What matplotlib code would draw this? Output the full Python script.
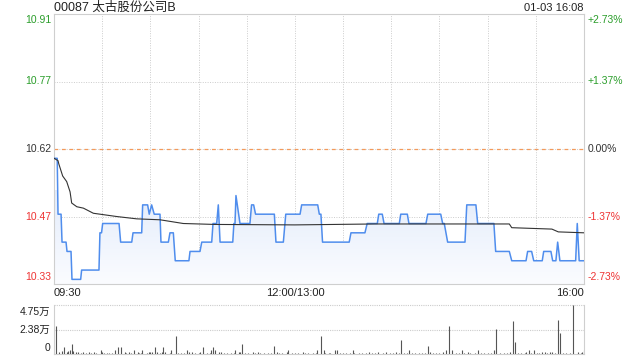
import matplotlib
matplotlib.use("Agg")
import matplotlib.pyplot as plt
import numpy as np
from matplotlib.colors import LinearSegmentedColormap

plt.rcParams['font.family'] = ['Liberation Sans', 'Noto Sans CJK SC', 'DejaVu Sans']

# ---------------- data ----------------
title = "00087 太古股份公司B"
stamp = "01-03 16:08"
prev_close = 10.62
pct_range = 0.0273
left_labels = ["10.91", "10.77", "10.62", "10.47", "10.33"]
right_labels = ["+2.73%", "+1.37%", "0.00%", "-1.37%", "-2.73%"]
time_labels = ["09:30", "12:00/13:00", "16:00"]
time_ticks = [0, 150, 330]
vol_labels = ["4.75万", "2.38万", "0"]
vol_max = 47500

price_t = [0, 2, 2.5, 4.4, 5, 7.5, 8.1, 10.6, 11.2, 16.6, 17.2, 28, 28.6, 29.6, 30.3, 40.5, 41.5,
           48.4, 49.2, 54.6, 55.2, 58.3, 59.3, 60.8, 62.4, 66, 66.6, 71.2, 72.2, 74.3, 75.5, 84,
           84.7, 90.9, 92, 98.2, 99, 101.3, 102.3, 103.4, 111.3, 112, 112.7, 113.3, 115.8, 122,
           123, 124.3, 125.5, 137.2, 138.2, 142.8, 144.3, 153.2, 154.2, 164.2, 165.2, 166.2,
           167.2, 183.8, 184.9, 193.6, 195, 201.3, 202.2, 204.4, 205.5, 215, 215.9, 220, 221,
           231.6, 232.7, 240.8, 242, 243, 245.1, 255.9, 257, 262.7, 263.8, 273.9, 275, 283.5,
           285, 293.9, 294.9, 297.4, 298.7, 304, 304.9, 309.4, 310.5, 312.5, 313.6, 315, 324.8,
           325.8, 327, 330]
price_v = [10.60, 10.60, 10.48, 10.48, 10.42, 10.42, 10.40, 10.40, 10.34, 10.34, 10.36, 10.36,
           10.44, 10.44, 10.46, 10.46, 10.42, 10.42, 10.44, 10.44, 10.50, 10.50, 10.48, 10.50,
           10.48, 10.48, 10.42, 10.42, 10.44, 10.44, 10.38, 10.38, 10.40, 10.40, 10.42, 10.42,
           10.46, 10.46, 10.50, 10.42, 10.42, 10.46, 10.46, 10.52, 10.46, 10.46, 10.50, 10.50,
           10.48, 10.48, 10.42, 10.42, 10.48, 10.48, 10.50, 10.50, 10.48, 10.48, 10.42, 10.42,
           10.44, 10.44, 10.46, 10.46, 10.48, 10.48, 10.46, 10.46, 10.48, 10.48, 10.46, 10.46,
           10.48, 10.48, 10.46, 10.46, 10.42, 10.42, 10.50, 10.50, 10.46, 10.46, 10.40, 10.40,
           10.38, 10.38, 10.40, 10.40, 10.38, 10.38, 10.40, 10.40, 10.38, 10.38, 10.42, 10.38,
           10.38, 10.46, 10.38, 10.38]

avg_t = [0, 2.5, 3, 5.4, 7.9, 10, 11, 14.2, 18.3, 24.5, 39, 51.5, 66, 80.5, 100, 150, 200, 250,
         283.5, 285, 310, 314, 330]
avg_v = [10.60, 10.595, 10.588, 10.562, 10.55, 10.528, 10.504, 10.496, 10.493, 10.482, 10.475,
         10.47, 10.468, 10.46, 10.458, 10.457, 10.459, 10.459, 10.459, 10.451, 10.448, 10.442,
         10.44]

vol_t = [1, 3, 5, 6, 8, 9, 10, 11, 12, 14, 15, 17, 18, 20, 22, 23, 25, 26, 29, 30, 31, 33, 34,
         36, 38, 40, 42, 44, 45, 47, 48, 50, 52, 53, 54, 55, 58, 59, 60, 61, 63, 64, 66, 67, 68,
         69, 72, 73, 76, 77, 79, 81, 83, 84, 86, 88, 90, 91, 93, 95, 97, 98, 99, 100, 103, 104,
         106, 108, 110, 112, 113, 115, 116, 117, 119, 121, 124, 125, 127, 128, 131, 133, 135,
         137, 139, 140, 142, 145, 146, 148, 150, 152, 155, 156, 158, 161, 163, 164, 166, 168,
         169, 171, 172, 175, 176, 178, 180, 182, 184, 186, 187, 190, 192, 194, 196, 198, 200,
         202, 205, 207, 209, 211, 213, 215, 216, 218, 220, 221, 223, 225, 227, 229, 231, 233,
         234, 236, 238, 240, 242, 244, 246, 248, 250, 252, 254, 255, 258, 259, 262, 264, 266,
         268, 270, 272, 274, 275, 278, 280, 282, 284, 286, 287, 289, 291, 293, 294, 296, 297,
         299, 301, 302, 304, 306, 307, 309, 310, 312, 314, 315, 317, 319, 321, 323, 326, 328,
         329, 330]
vol_v = [27000, 1600, 2600, 6900, 1600, 2600, 4300, 10100, 2600, 1600, 2000, 1000, 2000, 1000,
         2000, 1000, 2000, 1000, 4300, 2000, 1000, 1000, 1000, 1000, 4300, 6900, 6900, 1600, 1000,
         2000, 1000, 4300, 2000, 1000, 1000, 4300, 1000, 2000, 2000, 2000, 6900, 2000, 1000, 2000,
         6900, 2000, 1000, 4300, 17300, 1000, 1000, 1000, 4300, 2000, 2000, 1000, 1000, 2000,
         6900, 1000, 1000, 4300, 6900, 4300, 2000, 2000, 1000, 1000, 1000, 1000, 4300, 2000, 2000,
         10100, 1000, 1000, 2000, 1000, 2000, 1000, 1000, 1000, 1000, 7300, 2000, 1000, 1000,
         2000, 4300, 1000, 1000, 1000, 2000, 1000, 1000, 1000, 1000, 4300, 17000, 4300, 1000,
         1000, 1000, 4300, 4300, 1000, 1000, 1000, 1000, 4300, 1000, 1000, 1000, 1000, 2000,
         1000, 1000, 2000, 1000, 2000, 1000, 1000, 2000, 1000, 14000, 1000, 1000, 4300, 1000,
         1000, 1000, 1000, 1000, 7300, 2000, 1000, 1000, 1000, 2000, 4300, 27000, 4300, 1000,
         1000, 4300, 1000, 2000, 1000, 1000, 4300, 1000, 1000, 1000, 1000, 4300, 24000, 1000,
         1000, 1000, 2000, 31700, 11700, 1000, 1000, 1000, 2000, 4300, 1000, 4300, 1000, 1000,
         2000, 2000, 1000, 2000, 2000, 1000, 32700, 20000, 1000, 1000, 1000, 47500, 2000, 1000,
         2000, 4300]

# ---------------- figure ----------------
W, H = 640, 360
fig = plt.figure(figsize=(6.4, 3.6), dpi=100)
fig.patch.set_facecolor('white')

def fx(px):
    return px / W

def fy(py):
    return 1 - py / H

L, R = 54, 584
ax = fig.add_axes([fx(L), fy(284), fx(R - L), (284 - 14) / H])
axv = fig.add_axes([fx(L), fy(354), fx(R - L), (354 - 305) / H])

ymin = prev_close * (1 - pct_range)
ymax = prev_close * (1 + pct_range)
ax.set_xlim(0, 330)
ax.set_ylim(ymin, ymax)

border = '#cfcfcf'
grid_c = '#cccccc'
for a in (ax, axv):
    a.set_xticks([])
    a.set_yticks([])
    for s in a.spines.values():
        s.set_color(border)
        s.set_linewidth(0.8)

# vertical grid lines every 30 minutes
for m in range(30, 330, 30):
    ax.axvline(m, color=grid_c, lw=0.7, ls=(0, (1, 1.5)), zorder=1)

# horizontal grid
tick_pos = np.linspace(ymax, ymin, 5)
for i, yv in enumerate(tick_pos):
    if i in (1, 3):
        ax.axhline(yv, color=grid_c, lw=0.7, ls=(0, (1, 1.5)), zorder=1)
ax.axhline(prev_close, color=grid_c, lw=0.7, ls=(0, (1, 1.5)), zorder=1)
ax.axhline(prev_close, color='#f39a5b', lw=0.9, ls=(0, (3, 3)), zorder=2)

# gradient fill under price line
t = np.array(price_t)
v = np.array(price_v)
poly = ax.fill_between(t, v, ymin, color='none', lw=0)
cmap = LinearSegmentedColormap.from_list('g', ['#fbfcff', '#e3ecfb'])
grad = np.linspace(0, 1, 256).reshape(-1, 1)
im = ax.imshow(grad, extent=[0, 330, ymin, 10.53], origin='lower', aspect='auto',
               cmap=cmap, zorder=2)
im.set_clip_path(poly.get_paths()[0], transform=ax.transData)

ax.plot(t, v, color='#4f8ded', lw=1.1, zorder=4)
ax.plot(avg_t, avg_v, color='#333333', lw=0.8, zorder=5)

# watermark
ax.text(574, 10.345, "sina.com", color='#cccccc', fontsize=7.5, ha='right', va='center',
        zorder=3)

# price axis labels
green = '#2a9d2a'
red = '#ee3333'
colors = [green, green, '#333333', red, red]
for i, (yv, ll, rl) in enumerate(zip(tick_pos, left_labels, right_labels)):
    off = 0
    if i == 0:
        off = -6
    elif i == 4:
        off = 7
    trans = ax.get_yaxis_transform()
    ax.annotate(ll, xy=(0, yv), xycoords=trans, xytext=(-3, off), textcoords='offset pixels',
                ha='right', va='center', fontsize=7.5, color=colors[i])
    ax.annotate(rl, xy=(1, yv), xycoords=trans, xytext=(4, off), textcoords='offset pixels',
                ha='left', va='center', fontsize=7.5, color=colors[i])

# time labels
has = ['left', 'center', 'right']
for tt, lab, ha in zip(time_ticks, time_labels, has):
    ax.annotate(lab, xy=(tt, 0), xycoords=ax.get_xaxis_transform(), xytext=(0, -9),
                textcoords='offset pixels', ha=ha, va='center', fontsize=8, color='#222222')

# title and stamp
fig.text(fx(L), fy(8), title, ha='left', va='center', fontsize=9, color='#222222')
fig.text(fx(R), fy(8), stamp, ha='right', va='center', fontsize=8, color='#222222')

# volume panel
axv.set_xlim(0, 330)
axv.set_ylim(0, vol_max)
axv.spines['top'].set_visible(False)
axv.axhline(vol_max, color=grid_c, lw=0.8, ls=(0, (1, 1)), zorder=1, clip_on=False)
axv.axhline(vol_max / 2, color=grid_c, lw=0.8, ls=(0, (1, 1)), zorder=1)
axv.vlines(vol_t, 0, vol_v, color='#555555', lw=0.8, zorder=3)
vpos = [vol_max, vol_max / 2, 0]
voff = [-7, 0, 6]
for yv, lab, off in zip(vpos, vol_labels, voff):
    axv.annotate(lab, xy=(0, yv), xycoords=axv.get_yaxis_transform(), xytext=(-4, off),
                 textcoords='offset pixels', ha='right', va='center', fontsize=7.5,
                 color='#222222')

fig.savefig('out.png', dpi=100, facecolor='white')
